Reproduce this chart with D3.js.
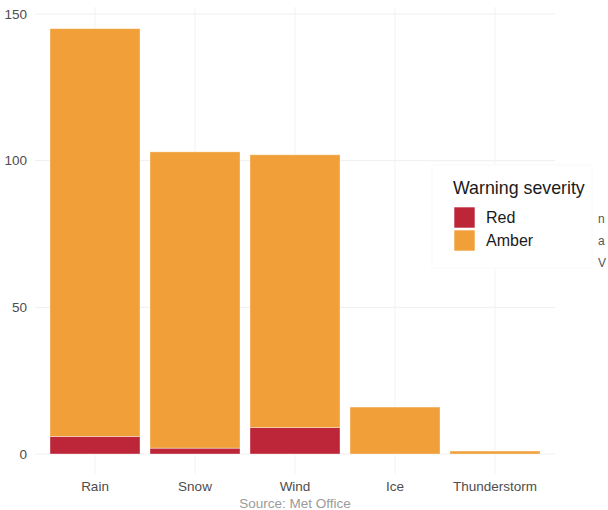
<!DOCTYPE html>
<html>
<head>
<meta charset="utf-8">
<script src="https://cdn.jsdelivr.net/npm/d3@7"></script>
<style>
  html, body { margin: 0; padding: 0; background: #fff; }
  svg { display: block; font-family: "Liberation Sans", Arial, sans-serif; }
</style>
</head>
<body>
<svg id="chart" width="608" height="510"></svg>
<script>
// Weather warnings issued by type, split by severity
const categories = ["Rain", "Snow", "Wind", "Ice", "Thunderstorm"];
const redCounts = [6, 2, 9, 0, 0];
const amberCounts = [139, 101, 93, 16, 1];
const severities = ["Red", "Amber"];
const severityColors = ["#bd2639", "#f09f39"];
const yTicks = [0, 50, 100, 150];
const sideNotes = ["n", "a", "V"];

const svg = d3.select("#chart");
const panel = { left: 35, right: 555, top: 14, bottom: 454 };

const rows = categories.map((c, i) => ({ type: c, Red: redCounts[i], Amber: amberCounts[i] }));
const stacked = d3.stack().keys(severities)(rows);

const x = d3.scaleBand()
  .domain(categories)
  .range([panel.left + 10, panel.right - 10])
  .paddingInner(0.1)
  .paddingOuter(0.05);

const y = d3.scaleLinear().domain([0, 150]).range([panel.bottom, panel.top]);
const color = d3.scaleOrdinal().domain(severities).range(severityColors);

// grid
const grid = svg.append("g");
grid.selectAll("line.h").data(yTicks).join("line")
  .attr("x1", panel.left).attr("x2", panel.right)
  .attr("y1", d => y(d)).attr("y2", d => y(d))
  .attr("stroke", "#efefef").attr("stroke-width", 1);
grid.selectAll("line.v").data(categories).join("line")
  .attr("x1", d => x(d) + x.bandwidth() / 2).attr("x2", d => x(d) + x.bandwidth() / 2)
  .attr("y1", panel.top - 7).attr("y2", panel.bottom + 20)
  .attr("stroke", "#f3f3f3").attr("stroke-width", 1);

// bars
svg.append("g").selectAll("g").data(stacked).join("g")
  .attr("fill", d => color(d.key))
  .selectAll("rect").data(d => d).join("rect")
  .attr("x", d => x(d.data.type))
  .attr("width", x.bandwidth())
  .attr("y", d => y(d[1]))
  .attr("height", d => y(d[0]) - y(d[1]))
  .attr("stroke", "#ffffff").attr("stroke-opacity", 0.45).attr("stroke-width", 0.8);

// axes
const yAxis = d3.axisLeft(y).tickValues(yTicks).tickSize(0).tickPadding(8);
svg.append("g").attr("transform", `translate(${panel.left},0)`).call(yAxis)
  .call(g => g.select(".domain").remove())
  .call(g => g.selectAll("text").attr("fill", "#4d4d4d").attr("font-size", 13.5)
    .attr("font-family", "Liberation Sans, Arial, sans-serif"));

const xAxis = d3.axisBottom(x).tickSize(0).tickPadding(27);
svg.append("g").attr("transform", `translate(0,${panel.bottom})`).call(xAxis)
  .call(g => g.select(".domain").remove())
  .call(g => g.selectAll("text").attr("fill", "#4d4d4d").attr("font-size", 13.5)
    .attr("font-family", "Liberation Sans, Arial, sans-serif"));

// caption
svg.append("text")
  .attr("x", (panel.left + panel.right) / 2).attr("y", 508)
  .attr("text-anchor", "middle").attr("fill", "#9b9b9b").attr("font-size", 13.5)
  .text("Source: Met Office");

// side notes at the right edge
svg.append("g").selectAll("text").data(sideNotes).join("text")
  .attr("x", 598).attr("y", (d, i) => 223 + i * 22)
  .attr("fill", "#555").attr("font-size", 12)
  .text(d => d);

// legend
const lg = svg.append("g").attr("transform", "translate(432,165)");
lg.append("rect").attr("width", 160).attr("height", 103)
  .attr("fill", "#fff").attr("stroke", "#fafafa");
lg.append("text").attr("x", 21).attr("y", 29)
  .attr("font-size", 17.8).attr("fill", "#1a1a1a").text("Warning severity");
const items = lg.selectAll("g.item").data(severities).join("g")
  .attr("transform", (d, i) => `translate(22,${42 + i * 23})`);
items.append("rect").attr("width", 21).attr("height", 21)
  .attr("fill", d => color(d)).attr("stroke", "#fff").attr("stroke-width", 0.6);
items.append("text").attr("x", 32).attr("y", 16)
  .attr("font-size", 16).attr("fill", "#1a1a1a").text(d => d);
</script>
</body>
</html>
